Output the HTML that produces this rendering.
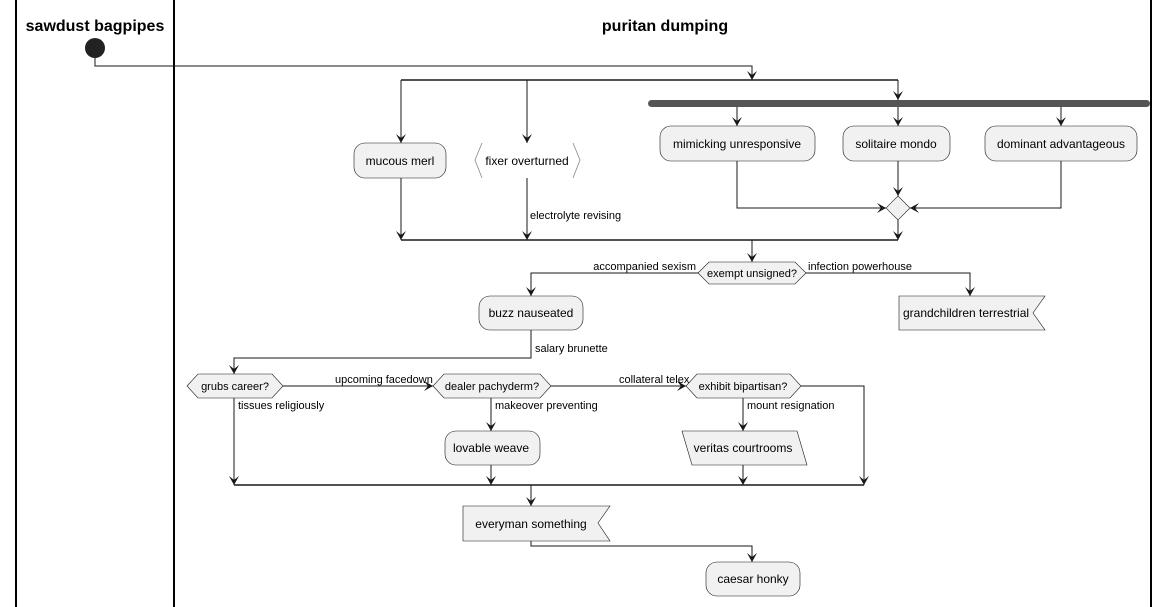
<!DOCTYPE html>
<html><head><meta charset="utf-8"><style>body{margin:0;background:#fff}svg{display:block}text{font-family:"Liberation Sans",sans-serif;fill:#000}</style></head><body>
<svg width="1171" height="607" viewBox="0 0 1171 607" xmlns="http://www.w3.org/2000/svg">
<defs><marker id="a" markerWidth="10" markerHeight="10" refX="9" refY="5" orient="auto" markerUnits="userSpaceOnUse"><path d="M0,0 L9,5 L0,10 L4,5 Z" fill="#181818"/></marker></defs>
<g stroke="#000" stroke-width="2"><line x1="16" y1="0" x2="16" y2="607"/><line x1="174" y1="0" x2="174" y2="607"/><line x1="1151" y1="0" x2="1151" y2="607"/></g>
<text x="95" y="31" font-size="16" font-weight="bold" text-anchor="middle">sawdust bagpipes</text>
<text x="665" y="31" font-size="16" font-weight="bold" text-anchor="middle">puritan dumping</text>
<circle cx="95" cy="48" r="10" fill="#222"/>
<g fill="none" stroke="#181818" stroke-width="1">
<path d="M95,58 V66 H752 V80" marker-end="url(#a)"/>
<path d="M401,80 H898" stroke-width="1.5"/>
<path d="M401,80 V143" marker-end="url(#a)"/>
<path d="M527,80 V143" marker-end="url(#a)"/>
<path d="M898,80 V100" marker-end="url(#a)"/>
<path d="M737,107 V126" marker-end="url(#a)"/>
<path d="M898,107 V126" marker-end="url(#a)"/>
<path d="M1061,107 V126" marker-end="url(#a)"/>
<path d="M737,161 V208 H886" marker-end="url(#a)"/>
<path d="M898,161 V196" marker-end="url(#a)"/>
<path d="M1061,161 V208 H910" marker-end="url(#a)"/>
<path d="M401,178 V240" marker-end="url(#a)"/>
<path d="M527,178 V240" marker-end="url(#a)"/>
<path d="M898,220 V240" marker-end="url(#a)"/>
<path d="M401,240 H898" stroke-width="1.5"/>
<path d="M752,240 V262" marker-end="url(#a)"/>
<path d="M698,273 H531 V296" marker-end="url(#a)"/>
<path d="M806,273 H970 V296" marker-end="url(#a)"/>
<path d="M531,330 V358 H234 V374" marker-end="url(#a)"/>
<path d="M283,386 H433" marker-end="url(#a)"/>
<path d="M551,386 H686" marker-end="url(#a)"/>
<path d="M801,386 H864 V485" marker-end="url(#a)"/>
<path d="M234,398 V485" marker-end="url(#a)"/>
<path d="M491,398 V431" marker-end="url(#a)"/>
<path d="M743,398 V431" marker-end="url(#a)"/>
<path d="M491,465 V485" marker-end="url(#a)"/>
<path d="M743,465 V485" marker-end="url(#a)"/>
<path d="M234,485 H864" stroke-width="1.5"/>
<path d="M531,485 V506" marker-end="url(#a)"/>
<path d="M531,541 V546 H752 V562" marker-end="url(#a)"/>
</g>
<rect x="648" y="100" width="502" height="7" rx="3.5" fill="#555"/>
<g fill="#f1f1f1" stroke="#181818" stroke-width="0.6">
<rect x="354" y="143" width="92" height="35" rx="11"/>
<rect x="660" y="126" width="155" height="35" rx="11"/>
<rect x="843" y="126" width="107" height="35" rx="11"/>
<rect x="985" y="126" width="152" height="35" rx="11"/>
<path d="M886,208 L898,196 L910,208 L898,220 Z"/>
<path d="M698,273 L709,262 H795 L806,273 L795,284 H709 Z"/>
<rect x="479" y="296" width="104" height="34" rx="11"/>
<path d="M899,296 H1045 L1033,313 L1045,330 H899 Z"/>
<path d="M187,386 L198,374 H272 L283,386 L272,398 H198 Z"/>
<path d="M433,386 L444,374 H540 L551,386 L540,398 H444 Z"/>
<path d="M686,386 L697,374 H790 L801,386 L790,398 H697 Z"/>
<rect x="445" y="431" width="95" height="34" rx="11"/>
<path d="M682,431 H797 L807,465 H692 Z"/>
<path d="M463,506 H610 L598,523 L610,541 H463 Z"/>
<rect x="706" y="562" width="94" height="34" rx="11"/>
</g>
<g fill="none" stroke="#888" stroke-width="0.8"><path d="M482,143 L475,160 L482,178"/><path d="M573,143 L580,160 L573,178"/></g>
<g font-size="12" text-anchor="middle">
<text x="400" y="165">mucous merl</text>
<text x="527" y="165">fixer overturned</text>
<text x="737" y="148">mimicking unresponsive</text>
<text x="896" y="148">solitaire mondo</text>
<text x="1061" y="148">dominant advantageous</text>
<text x="531" y="317">buzz nauseated</text>
<text x="966" y="317">grandchildren terrestrial</text>
<text x="491" y="452">lovable weave</text>
<text x="743" y="452">veritas courtrooms</text>
<text x="531" y="528">everyman something</text>
<text x="753" y="583">caesar honky</text>
</g>
<g font-size="11" text-anchor="middle">
<text x="752" y="277">exempt unsigned?</text>
<text x="235" y="390">grubs career?</text>
<text x="492" y="390">dealer pachyderm?</text>
<text x="743" y="390">exhibit bipartisan?</text>
</g>
<g font-size="11">
<text x="530" y="219">electrolyte revising</text>
<text x="696" y="270" text-anchor="end">accompanied sexism</text>
<text x="808" y="270">infection powerhouse</text>
<text x="535" y="352">salary brunette</text>
<text x="335" y="383">upcoming facedown</text>
<text x="619" y="383">collateral telex</text>
<text x="238" y="409">tissues religiously</text>
<text x="495" y="409">makeover preventing</text>
<text x="747" y="409">mount resignation</text>
</g>
</svg>
</body></html>
